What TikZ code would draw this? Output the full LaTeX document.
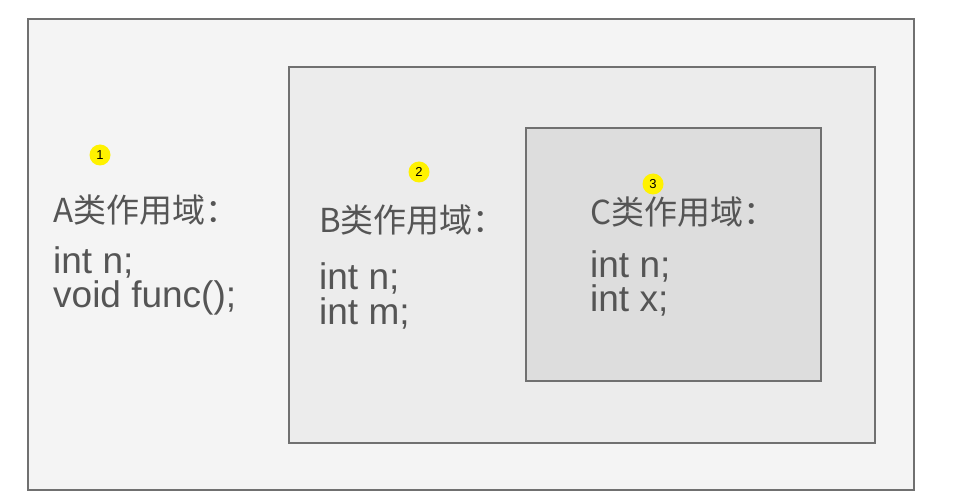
\documentclass[tikz,border=0pt]{standalone}
\usepackage{fontspec}
\setmainfont{Liberation Sans}
\newfontfamily\cjk{Noto Sans CJK SC}
\definecolor{txt}{HTML}{555555}
\definecolor{edge}{HTML}{707070}
\definecolor{fillA}{HTML}{F4F4F4}
\definecolor{fillB}{HTML}{ECECEC}
\definecolor{fillC}{HTML}{DDDDDD}
\tikzset{
  scopebox/.style={draw=edge, line width=1.6pt},
  header/.style={anchor=base west, inner sep=0pt, text=txt, font=\cjk\fontsize{33}{36}\selectfont},
  code/.style={anchor=base west, inner sep=0pt, text=txt, font=\fontsize{37}{38}\selectfont, align=left},
  badge/.style={circle, fill=yellow, minimum size=21pt, inner sep=0pt, font=\fontsize{13}{14}\selectfont, text=black}
}
\begin{document}
\begin{tikzpicture}[x=1pt,y=-1pt]
\useasboundingbox (0,0) rectangle (957,502);
\fill[white] (0,0) rectangle (957,502);
\draw[scopebox, fill=fillA] (28,19) rectangle (914,490);
\draw[scopebox, fill=fillB] (289,67) rectangle (875,443);
\draw[scopebox, fill=fillC] (526,128) rectangle (821,381);

\node[badge] (b1) at (100,155) {1};
\node[badge] (b2) at (419,172) {2};
\node[badge] (b3) at (653,184) {3};

\node[header] (ha) at (53,223) {A类作用域：};
\node[code] (ca1) at (53,273) {int n;};
\node[code] (ca2) at (53,307) {void func();};

\node[header] (hb) at (319,233) {B类作用域：};
\node[code] (cb1) at (319,289) {int n;};
\node[code] (cb2) at (319,324) {int m;};

\node[header] (hc) at (590,225) {C类作用域：};
\node[code] (cc1) at (590,277) {int n;};
\node[code] (cc2) at (590,311) {int x;};
\end{tikzpicture}
\end{document}
